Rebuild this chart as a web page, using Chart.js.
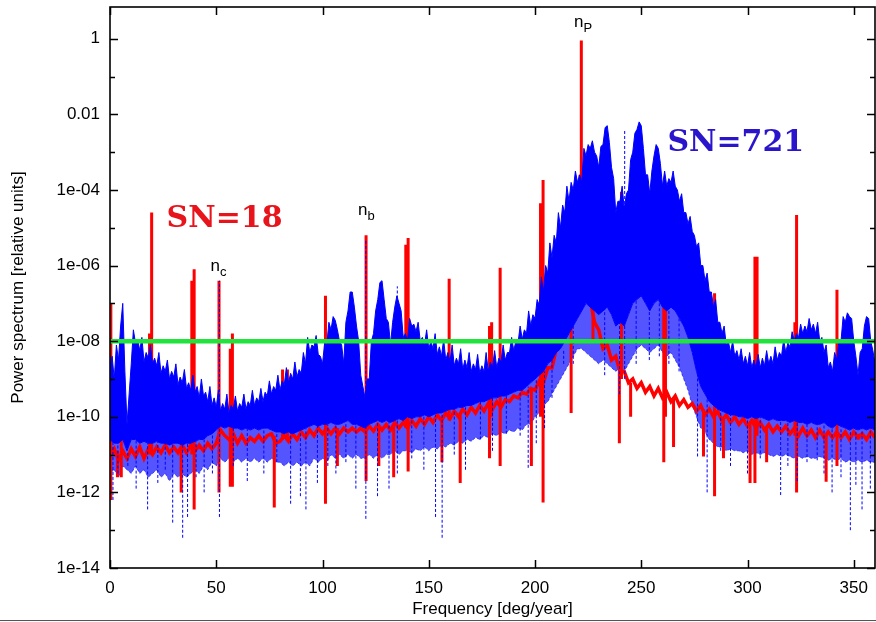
<!DOCTYPE html>
<html>
<head>
<meta charset="utf-8">
<script src="https://cdn.jsdelivr.net/npm/chart.js@4.4.1/dist/chart.umd.min.js"></script>
<style>
  body { margin: 0; background: #fff; }
  canvas { display: block; }
</style>
</head>
<body>
<canvas id="spectrum" width="876" height="622"></canvas>
<script>
// all spectra given as log10(power), sampled every 2 deg/year from 0 to 360
const degStep = 2;

// SN=721 : upper edge of the dense blue band (even degrees)
const blueTop = [
  -8.7, -9.0, -8.5, -7.0, -10.2, -8.6, -8.05, -8.25, -8.55, -8.45,
  -8.6, -8.65, -8.85, -8.8, -9.0, -8.95, -9.15, -9.1, -9.25, -9.3,
  -9.35, -9.5, -9.45, -9.6, -9.7, -9.75, -9.85, -9.8, -9.9, -9.8,
  -9.85, -9.75, -9.8, -9.7, -9.7, -9.6, -9.6, -9.45, -9.4, -9.3,
  -9.3, -9.15, -9.1, -9.0, -8.95, -8.85, -8.6, -8.3, -8.15, -8.35,
  -8.6, -8.1, -7.7, -7.45, -8.0, -8.6, -7.2, -6.7, -7.6, -8.9,
  -9.5, -9.0, -7.8, -6.9, -6.4, -7.4, -8.1, -7.1, -7.0, -7.9,
  -8.0, -7.6, -7.75, -8.0, -8.1, -8.2, -8.2, -8.35, -8.4, -8.5,
  -8.55, -8.65, -8.6, -8.75, -8.7, -8.8, -8.75, -8.85, -8.8, -8.8,
  -8.7, -8.7, -8.55, -8.5, -8.3, -8.25, -8.05, -7.95, -7.8, -7.6,
  -7.4, -7.05, -6.7, -6.2, -5.8, -5.4, -5.0, -4.6, -4.3, -4.0,
  -3.8, -3.8, -3.1, -2.9, -3.0, -3.4, -2.8, -2.3, -3.4, -4.6,
  -4.3, -4.5, -4.0, -3.0, -2.4, -2.3, -3.6, -4.1, -3.1, -2.9,
  -3.9, -3.9, -3.8, -3.9, -4.3, -4.6, -4.9, -5.1, -5.5, -6.0,
  -6.4, -6.7, -7.1, -7.5, -7.8, -8.1, -8.3, -8.4, -8.5, -8.6,
  -8.65, -8.7, -8.7, -8.7, -8.65, -8.6, -8.6, -8.5, -8.4, -8.3,
  -8.15, -8.0, -7.9, -7.8, -7.75, -7.7, -7.8, -8.0, -8.3, -8.7,
  -8.8, -8.5, -8.0, -7.5, -7.35, -8.0, -8.9, -8.2, -7.35, -8.0,
  -8.6
];
// SN=721 : thin spikes poking out of the band top (odd degrees 1..359)
const blueCrest = [
  -8.4, -8.1, -7.6, -8.8, -9.4, -7.7, -7.95, -7.9, -8.3, -8.1,
  -8.45, -8.3, -8.65, -8.5, -8.8, -8.6, -8.95, -8.75, -9.1, -8.9,
  -9.2, -9.0, -9.35, -9.2, -9.5, -9.3, -9.65, -9.4, -9.7, -9.45,
  -9.65, -9.4, -9.6, -9.3, -9.5, -9.25, -9.35, -9.05, -9.2, -8.9,
  -9.05, -8.7, -8.85, -8.55, -8.75, -8.3, -7.9, -8.1, -7.85, -8.4,
  -8.05, -7.5, -7.35, -7.7, -8.1, -7.5, -6.7, -7.1, -8.0, -9.2,
  -9.0, -8.0, -7.2, -6.45, -6.9, -7.5, -7.5, -6.8, -7.2, -7.8,
  -7.4, -7.55, -7.5, -7.9, -7.7, -8.0, -7.8, -8.15, -7.95, -8.3,
  -8.1, -8.45, -8.2, -8.5, -8.3, -8.6, -8.35, -8.65, -8.3, -8.55,
  -8.25, -8.45, -8.1, -8.3, -7.9, -8.0, -7.6, -7.7, -7.2, -7.3,
  -6.9, -6.3, -6.0, -5.4, -5.2, -4.6, -4.4, -3.9, -3.8, -3.5,
  -3.6, -2.9, -2.8, -2.7, -3.1, -2.85, -2.35, -2.75, -3.7, -4.3,
  -3.9, -4.1, -3.2, -2.5, -2.2, -2.9, -3.6, -3.5, -2.8, -3.3,
  -3.5, -3.7, -3.5, -4.0, -4.1, -4.6, -4.7, -5.2, -5.4, -6.0,
  -6.2, -6.7, -6.9, -7.5, -7.6, -8.0, -8.0, -8.25, -8.2, -8.4,
  -8.3, -8.5, -8.35, -8.45, -8.25, -8.4, -8.15, -8.3, -7.95, -8.05,
  -7.75, -7.8, -7.55, -7.6, -7.4, -7.55, -7.5, -7.9, -8.1, -8.55,
  -8.3, -8.0, -7.35, -7.25, -7.4, -8.4, -8.3, -7.6, -7.4, -8.25
];
// SN=721 : lower edge of the dense band (even degrees)
const blueBottom = [
  -10.6, -10.7, -10.7, -10.6, -10.9, -10.6, -10.6, -10.7, -10.65, -10.7,
  -10.7, -10.65, -10.7, -10.7, -10.75, -10.7, -10.7, -10.75, -10.7, -10.7,
  -10.65, -10.6, -10.6, -10.5, -10.45, -10.35, -10.25, -10.3, -10.25, -10.3,
  -10.3, -10.35, -10.3, -10.35, -10.3, -10.35, -10.3, -10.3, -10.35, -10.4,
  -10.4, -10.45, -10.4, -10.45, -10.4, -10.35, -10.3, -10.25, -10.2, -10.25,
  -10.2, -10.2, -10.15, -10.2, -10.2, -10.15, -10.1, -10.2, -10.2, -10.25,
  -10.3, -10.2, -10.15, -10.1, -10.15, -10.1, -10.15, -10.1, -10.05, -10.1,
  -10.0, -10.05, -10.0, -10.0, -9.95, -10.0, -9.95, -9.9, -9.9, -9.85,
  -9.8, -9.8, -9.75, -9.75, -9.7, -9.7, -9.65, -9.6, -9.6, -9.55,
  -9.5, -9.5, -9.45, -9.45, -9.4, -9.35, -9.3, -9.3, -9.2, -9.1,
  -9.0, -8.9, -8.8, -8.6, -8.5, -8.3, -8.2, -8.0, -7.8, -7.6,
  -7.4, -7.2, -7.0, -7.1, -7.2, -7.3, -7.2, -7.1, -7.3, -7.6,
  -7.5, -7.6, -7.3, -7.0, -6.9, -6.8, -7.0, -7.2, -7.0, -6.9,
  -7.1, -7.2, -7.1, -7.2, -7.4, -7.6, -7.9, -8.3, -8.8, -9.2,
  -9.4, -9.6, -9.7, -9.8, -9.85, -9.9, -9.95, -9.95, -10.0, -10.0,
  -10.05, -10.0, -10.05, -10.0, -10.05, -10.1, -10.05, -10.1, -10.1, -10.1,
  -10.15, -10.1, -10.15, -10.15, -10.2, -10.15, -10.2, -10.2, -10.15, -10.25,
  -10.3, -10.2, -10.25, -10.3, -10.35, -10.3, -10.35, -10.3, -10.35, -10.3,
  -10.35
];
// SN=721 : lower edge of the sparse dashed fringe under the band (even degrees)
const blueFloor = [
  -11.5, -11.4, -11.6, -11.3, -11.4, -11.5, -11.3, -11.5, -11.4, -11.6,
  -11.5, -11.4, -11.6, -11.5, -11.7, -11.5, -11.6, -11.5, -11.6, -11.5,
  -11.4, -11.5, -11.3, -11.4, -11.2, -11.3, -11.1, -11.2, -11.1, -11.2,
  -11.1, -11.2, -11.1, -11.2, -11.1, -11.2, -11.1, -11.2, -11.1, -11.2,
  -11.2, -11.3, -11.2, -11.3, -11.2, -11.3, -11.2, -11.3, -11.1, -11.2,
  -11.1, -11.2, -11.0, -11.1, -11.0, -11.1, -11.0, -11.1, -11.0, -11.1,
  -11.1, -11.0, -11.1, -11.0, -11.1, -11.0, -11.0, -10.9, -11.0, -10.9,
  -10.9, -10.95, -10.85, -10.9, -10.8, -10.9, -10.8, -10.85, -10.75, -10.8,
  -10.7, -10.75, -10.65, -10.7, -10.6, -10.65, -10.55, -10.6, -10.5, -10.55,
  -10.45, -10.5, -10.4, -10.45, -10.35, -10.4, -10.3, -10.35, -10.2, -10.2,
  -10.0, -9.9, -9.7, -9.6, -9.4, -9.2, -9.0, -8.8, -8.6, -8.4,
  -8.2, -8.2, -8.3, -8.4, -8.5, -8.6, -8.5, -8.6, -8.7, -8.8,
  -8.7, -8.8, -8.6, -8.4, -8.2, -8.1, -8.2, -8.3, -8.2, -8.1,
  -8.3, -8.4, -8.3, -8.5, -8.7, -9.0, -9.3, -9.7, -10.0, -10.3,
  -10.4, -10.6, -10.7, -10.8, -10.8, -10.9, -10.85, -10.9, -10.9, -10.95,
  -10.9, -11.0, -10.95, -11.0, -10.95, -11.0, -11.05, -11.0, -11.05, -11.0,
  -11.05, -11.1, -11.05, -11.1, -11.05, -11.1, -11.1, -11.05, -11.1, -11.15,
  -11.1, -11.15, -11.1, -11.2, -11.15, -11.2, -11.15, -11.2, -11.15, -11.2,
  -11.2
];
// SN=721 : sparse dashed strokes [deg, low, high]
const blueSticks = [
  [1.4, -12.2, -10.6], [3.7, -11.5, -10.7], [8.4, -11.3, -10.9], [12.3, -11.9, -10.6],
  [17.7, -12.45, -10.7], [22.5, -11.75, -10.65], [26, -11.4, -10.7], [29.5, -12.8, -10.7],
  [34.2, -13.2, -10.75], [36.5, -12.65, -10.7], [40.5, -11.6, -10.65], [44.3, -12.0, -10.6],
  [48.2, -11.5, -10.45], [51.5, -12.65, -6.4], [58, -11.3, -10.3], [64.6, -11.7, -10.3],
  [72.4, -11.5, -10.3], [78.5, -11.2, -10.4], [85, -12.3, -10.4], [89.6, -12.1, -10.35],
  [92.2, -12.45, -10.3], [97.6, -11.75, -10.2], [102.5, -11.3, -10.2], [106.3, -11.5, -10.2],
  [111, -11.2, -10.15], [115.7, -11.9, -10.2], [120.4, -12.7, -5.3], [125.9, -12.1, -10.15],
  [131.3, -11.9, -10.1], [135.2, -11.5, -6.55], [142, -11.1, -10.05], [147.7, -11.4, -9.95],
  [153.2, -12.65, -9.95], [156.3, -13.2, -9.9], [162, -11.0, -9.8], [167.3, -11.4, -9.75],
  [174.3, -10.6, -9.6], [180, -10.9, -9.5], [186.5, -10.45, -9.45], [193, -10.5, -9.3],
  [196.8, -11.35, -9.2], [200.6, -10.7, -9.0], [204.5, -10.3, -8.8], [208, -9.5, -8.5],
  [213.5, -8.6, -8.2], [218, -8.6, -7.6], [232.8, -8.9, -6.5], [239.8, -9.4, -6.8],
  [242.2, -9.0, -2.4], [247.6, -8.6, -5.8], [253.8, -8.5, -6.3], [258.5, -8.4, -5.8],
  [263, -8.6, -6.4], [267.8, -8.8, -6.7], [276.5, -11.05, -8.8], [281, -12.0, -9.5],
  [287.4, -10.9, -9.8], [292, -11.3, -9.95], [300, -11.5, -10.05], [306, -11.1, -10.0],
  [315.6, -12.07, -10.1], [319, -11.3, -10.1], [323.4, -11.7, -10.1], [328, -11.2, -10.2],
  [332.8, -11.15, -10.2], [336, -11.5, -10.15], [339.8, -12.0, -10.25], [344, -11.6, -10.25],
  [348.4, -13.0, -10.35], [351, -11.8, -10.3], [353.9, -12.45, -10.3], [357.8, -11.9, -10.3]
];

// SN=18 : background level (even degrees) and the narrow lines [deg, low, high]
const redBase = [
  -11.05, -10.85, -11.15, -10.9, -11.1, -10.85, -11.05, -10.8, -11.1, -10.85,
  -11.0, -10.8, -10.95, -10.75, -10.95, -10.8, -10.95, -10.75, -10.95, -10.75,
  -10.9, -10.75, -10.9, -10.7, -10.85, -10.7, -10.35, -10.5, -10.6, -10.45,
  -10.7, -10.5, -10.7, -10.55, -10.65, -10.5, -10.65, -10.5, -10.45, -10.7,
  -10.65, -10.5, -10.65, -10.45, -10.6, -10.4, -10.55, -10.35, -10.5, -10.3,
  -10.45, -10.3, -10.45, -10.3, -10.45, -10.3, -10.4, -10.3, -10.4, -10.3,
  -10.4, -10.25, -10.38, -10.2, -10.35, -10.2, -10.35, -10.15, -10.3, -10.15,
  -10.3, -10.1, -10.25, -10.05, -10.2, -10.0, -10.15, -9.95, -10.1, -9.9,
  -10.05, -9.85, -10.0, -9.8, -9.95, -9.75, -9.9, -9.7, -9.85, -9.65,
  -9.8, -9.6, -9.75, -9.55, -9.6, -9.45, -9.5, -9.35, -9.4, -9.25,
  -9.3, -9.05, -9.1, -8.7, -8.7, -8.2, -8.1, -7.5, -7.3, -6.7,
  -6.5, -6.2, -6.7, -6.9, -7.5, -7.7, -8.2, -8.1, -8.5, -8.4,
  -8.8, -8.8, -9.1, -9.0, -9.25, -9.1, -9.35, -9.2, -9.45, -9.25,
  -9.5, -9.35, -9.6, -9.45, -9.7, -9.55, -9.75, -9.65, -9.85, -9.7,
  -9.95, -9.8, -10.0, -9.85, -10.1, -9.95, -10.15, -10.0, -10.2, -10.05,
  -10.25, -10.1, -10.3, -10.15, -10.35, -10.2, -10.4, -10.25, -10.4, -10.25,
  -10.45, -10.3, -10.5, -10.3, -10.5, -10.35, -10.55, -10.35, -10.55, -10.4,
  -10.55, -10.4, -10.55, -10.4, -10.6, -10.4, -10.55, -10.45, -10.6, -10.4,
  -10.55
];
const redSticks = [
  [0.4, -12.2, -7.0], [3.5, -11.6, -10.9], [5.3, -11.6, -10.1], [18.6, -11.0, -7.8],
  [19.6, -11.0, -4.6], [33.5, -12.0, -10.8], [38.5, -11.0, -6.4], [39.6, -12.45, -6.1],
  [51.3, -12.0, -6.4], [56.6, -11.85, -8.2], [57.6, -11.85, -7.8], [77.3, -12.4, -10.5],
  [81.2, -10.6, -8.75], [83.5, -10.6, -8.75], [101.4, -12.3, -6.8], [107, -11.3, -10.3],
  [120.5, -11.7, -5.2], [126.5, -11.3, -10.3], [133.5, -11.6, -10.2], [139.2, -10.3, -5.45],
  [140.3, -11.45, -5.27], [156.2, -11.2, -10.0], [159.6, -10.1, -6.35], [164.8, -11.75, -9.9],
  [178.6, -11.1, -7.6], [179.6, -10.0, -7.5], [183.6, -11.3, -6.06], [198.3, -11.3, -9.3],
  [202.6, -10.0, -4.35], [203.8, -12.27, -3.74], [217, -9.9, -7.2], [221.2, -7.0, -3.6],
  [221.8, -7.0, -0.05], [222.5, -7.0, -3.6], [227.3, -8.0, -5.5], [239.7, -10.7, -8.6],
  [240.7, -9.0, -4.05], [245, -10.0, -9.1], [260.6, -11.2, -6.6], [261.4, -10.0, -6.6],
  [265.2, -10.8, -9.5], [279.3, -11.05, -9.8], [284.5, -12.1, -6.73], [288.7, -11.1, -10.0],
  [301.2, -11.75, -10.15], [303.5, -11.75, -5.77], [304.5, -10.5, -5.77], [309, -11.2, -10.25],
  [322.3, -10.5, -7.5], [323.1, -12.0, -4.66], [337, -11.72, -10.45], [342.1, -11.3, -6.64],
  [352.5, -10.6, -10.45]
];

const threshold = 1e-8;
const xTicks = [0, 50, 100, 150, 200, 250, 300, 350];
const yMajor = [1e-14, 1e-12, 1e-10, 1e-8, 1e-6, 1e-4, 1e-2, 1];
const yMinor = [1e-13, 1e-11, 1e-9, 1e-7, 1e-5, 1e-3, 1e-1];

// text notes: [text, subscript, deg, log10 power]
const peakNotes = [['n', 'c', 47.3, -6.14], ['n', 'b', 116.7, -4.66], ['n', 'P', 218.4, 0.31]];
const snNotes = [['SN=18', 53.9, -4.77, '#e8141c'], ['SN=721', 294.5, -2.76, '#2a14cc']];

const toPoints = arr => arr.map((v, i) => ({ x: i * degStep, y: Math.pow(10, v) }));
// even-degree values interleaved with the odd-degree crest values
const toJagged = (even, odd) => {
  const pts = [];
  even.forEach((v, i) => {
    pts.push({ x: i * degStep, y: Math.pow(10, v) });
    if (i < odd.length) pts.push({ x: i * degStep + 1, y: Math.pow(10, odd[i]) });
  });
  return pts;
};
const toSticks = list => {
  const pts = [];
  list.forEach(([d, lo, hi]) => {
    pts.push({ x: d, y: Math.pow(10, lo) }, { x: d, y: Math.pow(10, hi) }, { x: d, y: null });
  });
  return pts;
};

const FONT = '"Liberation Sans", Arial, sans-serif';

const frame = {
  id: 'frame',
  afterDatasetsDraw(chart) {
    const { ctx, chartArea: a, scales: { x, y } } = chart;
    ctx.save();
    ctx.strokeStyle = '#000';
    ctx.lineWidth = 1.5;
    ctx.beginPath();
    yMajor.concat(yMinor).forEach(v => {
      const len = yMajor.includes(v) ? 8 : 5;
      const py = Math.round(y.getPixelForValue(v)) + 0.5;
      ctx.moveTo(a.left, py); ctx.lineTo(a.left + len, py);
      ctx.moveTo(a.right, py); ctx.lineTo(a.right - len, py);
    });
    xTicks.forEach(v => {
      const px = Math.round(x.getPixelForValue(v)) + 0.5;
      ctx.moveTo(px, a.top); ctx.lineTo(px, a.top + 8);
      ctx.moveTo(px, a.bottom); ctx.lineTo(px, a.bottom - 8);
    });
    ctx.stroke();
    ctx.lineWidth = 1.6;
    ctx.strokeRect(a.left, a.top, a.right - a.left, a.bottom - a.top);

    // labels
    ctx.fillStyle = '#000';
    ctx.textBaseline = 'alphabetic';
    ctx.textAlign = 'left';
    peakNotes.forEach(([t, s, d, p]) => {
      const px = x.getPixelForValue(d), py = y.getPixelForValue(Math.pow(10, p));
      ctx.font = '17px ' + FONT;
      ctx.fillText(t, px, py);
      const w = ctx.measureText(t).width;
      ctx.font = '13px ' + FONT;
      ctx.fillText(s, px + w, py + 5);
    });
    ctx.textAlign = 'center';
    ctx.textBaseline = 'middle';
    ctx.font = 'bold 30px "DejaVu Serif", serif';
    snNotes.forEach(([t, d, p, c]) => {
      ctx.fillStyle = c;
      ctx.fillText(t, x.getPixelForValue(d), y.getPixelForValue(Math.pow(10, p)));
    });

    // page rule under the figure
    ctx.strokeStyle = '#555';
    ctx.lineWidth = 1;
    ctx.beginPath();
    ctx.moveTo(0, 620.5); ctx.lineTo(chart.width, 620.5);
    ctx.stroke();
    ctx.restore();
  }
};

const ctx = document.getElementById('spectrum').getContext('2d');
new Chart(ctx, {
  type: 'line',
  data: {
    datasets: [
      { data: [{ x: 0, y: threshold }, { x: 360, y: threshold }], borderColor: '#20e43c', borderWidth: 4.5 },
      { data: toSticks(blueSticks), borderColor: '#0000ff', borderWidth: 1, borderDash: [3, 2] },
      { data: toJagged(blueTop, blueCrest), borderColor: '#0000ff', borderWidth: 1, fill: '+1', backgroundColor: '#0000ff' },
      { data: toPoints(blueBottom), borderColor: '#0000ff', borderWidth: 1 },
      { data: toSticks(redSticks), borderColor: '#ff0000', borderWidth: 3 },
      { data: toPoints(redBase), borderColor: '#ff0000', borderWidth: 3.5 },
      { data: toPoints(blueFloor), borderColor: 'rgba(0,0,255,0.6)', borderWidth: 1, borderDash: [3, 2], fill: 3, backgroundColor: 'rgba(20,20,255,0.72)' }
    ]
  },
  options: {
    responsive: false,
    animation: false,
    events: [],
    layout: { padding: { top: 7, right: 1, left: 0, bottom: 0 } },
    elements: { point: { radius: 0 }, line: { tension: 0, borderJoinStyle: 'miter' } },
    plugins: { legend: { display: false }, tooltip: { enabled: false } },
    scales: {
      x: {
        type: 'linear', min: 0, max: 360,
        grid: { display: false, drawTicks: false },
        border: { display: false },
        afterBuildTicks: s => { s.ticks = xTicks.map(v => ({ value: v })); },
        afterFit: s => { s.height = 54; s.paddingLeft = 0; s.paddingRight = 0; },
        ticks: { font: { family: FONT, size: 17 }, color: '#000', padding: 10, maxRotation: 0 },
        title: { display: true, text: 'Frequency [deg/year]', font: { family: FONT, size: 17 }, color: '#000', padding: { top: 0, bottom: 2 } }
      },
      y: {
        type: 'logarithmic', min: 1e-14, max: 6.9,
        grid: { display: false, drawTicks: false },
        border: { display: false },
        afterBuildTicks: s => { s.ticks = yMajor.map(v => ({ value: v })); },
        afterFit: s => { s.width = 110; s.paddingTop = 0; s.paddingBottom = 0; },
        ticks: {
          font: { family: FONT, size: 17 }, color: '#000', padding: 10,
          callback: v => {
            if (v === 1) return '1';
            if (v === 1e-2) return '0.01';
            const e = Math.round(Math.log10(v));
            return '1e-' + String(-e).padStart(2, '0');
          }
        },
        title: { display: true, text: 'Power spectrum [relative units]', font: { family: FONT, size: 17 }, color: '#000', padding: { top: 8, bottom: 0 } }
      }
    }
  },
  plugins: [frame]
});
</script>
</body>
</html>
